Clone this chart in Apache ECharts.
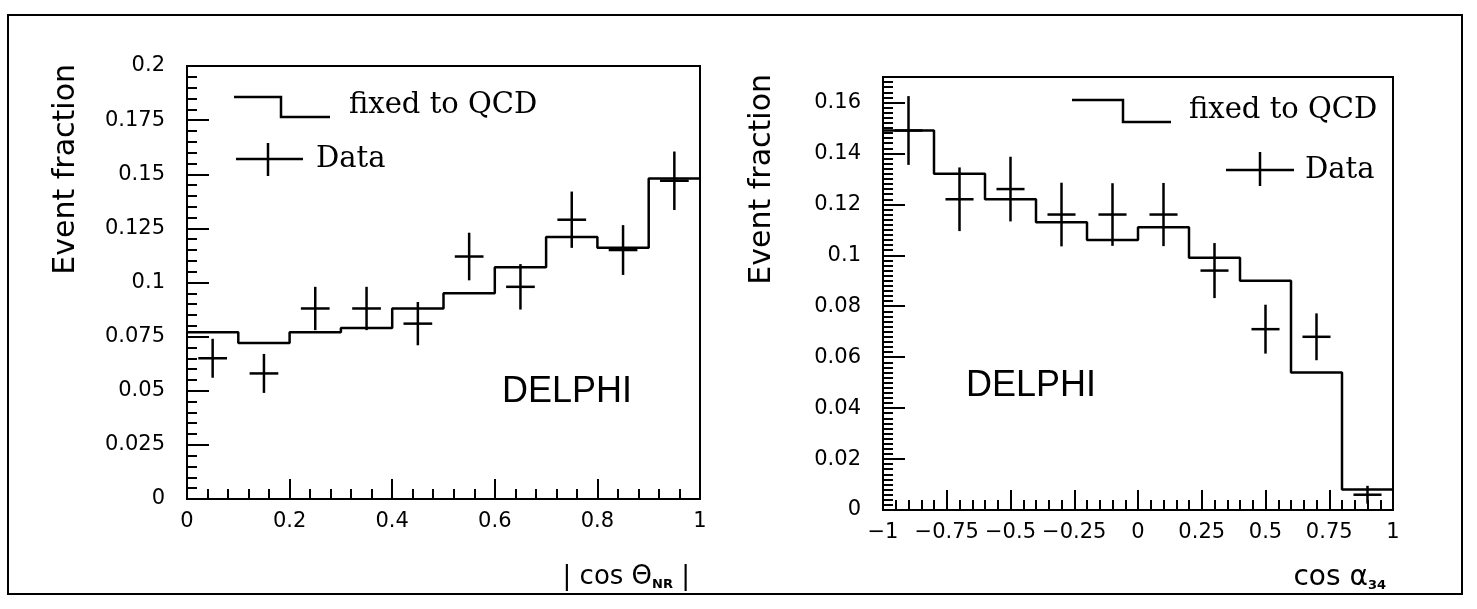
<!DOCTYPE html>
<html>
<head>
<meta charset="utf-8">
<script src="https://cdn.jsdelivr.net/npm/echarts@6/dist/echarts.min.js"></script>
<style>
html, body { margin: 0; padding: 0; background: #fff; }
#chart { width: 1477px; height: 609px; }
</style>
</head>
<body>
<div id="chart"></div>
<script>
// left panel: |cos Theta_NR|
var leftEdges = [0, 0.1, 0.2, 0.3, 0.4, 0.5, 0.6, 0.7, 0.8, 0.9, 1.0];
var leftQcd = [0.077, 0.072, 0.077, 0.079, 0.088, 0.095, 0.107, 0.121, 0.116, 0.148];
var leftX = [0.05, 0.15, 0.25, 0.35, 0.45, 0.55, 0.65, 0.75, 0.85, 0.95];
var leftData = [0.065, 0.058, 0.088, 0.088, 0.081, 0.112, 0.098, 0.129, 0.115, 0.147];
var leftErr = [0.009, 0.009, 0.010, 0.010, 0.010, 0.011, 0.0105, 0.013, 0.0115, 0.0135];

// right panel: cos alpha_34
var rightEdges = [-1, -0.8, -0.6, -0.4, -0.2, 0, 0.2, 0.4, 0.6, 0.8, 1.0];
var rightQcd = [0.149, 0.132, 0.122, 0.113, 0.106, 0.111, 0.099, 0.090, 0.054, 0.008];
var rightX = [-0.9, -0.7, -0.5, -0.3, -0.1, 0.1, 0.3, 0.5, 0.7, 0.9];
var rightData = [0.149, 0.122, 0.126, 0.116, 0.116, 0.116, 0.094, 0.071, 0.068, 0.006];
var rightErr = [0.0135, 0.0125, 0.0127, 0.0125, 0.0123, 0.0124, 0.0108, 0.0096, 0.0092, 0.0035];

var myChart = echarts.init(document.getElementById('chart'));

var sans = 'DejaVu Sans';
var serif = 'DejaVu Serif';

function num(v) {
  return String(+v.toFixed(3)).replace('-', '\u2212');
}

function histSeries(edges, vals, idx) {
  var pts = vals.map(function (v, i) { return [edges[i], v]; });
  pts.push([edges[edges.length - 1], vals[vals.length - 1]]);
  return {
    type: 'line', step: 'end', data: pts,
    xAxisIndex: idx, yAxisIndex: idx,
    symbol: 'none', silent: true,
    lineStyle: { color: '#000', width: 2.5 }
  };
}

// data points with error crosses
function crossSeries(xs, ys, errs, halfW, idx) {
  return {
    type: 'custom',
    xAxisIndex: idx, yAxisIndex: idx,
    data: xs.map(function (x, i) { return [x, ys[i], errs[i]]; }),
    encode: { x: 0, y: 1 },
    z: 3,
    renderItem: function (params, api) {
      var x = api.value(0), y = api.value(1), e = api.value(2);
      var t = api.coord([x, y + e]);
      var b = api.coord([x, y - e]);
      var l = api.coord([x - halfW, y]);
      var r = api.coord([x + halfW, y]);
      var st = { stroke: '#000', lineWidth: 2.5 };
      return {
        type: 'group',
        children: [
          { type: 'line', shape: { x1: t[0], y1: t[1], x2: b[0], y2: b[1] }, style: st },
          { type: 'line', shape: { x1: l[0], y1: l[1], x2: r[0], y2: r[1] }, style: st }
        ]
      };
    }
  };
}

function xAxisOf(idx, min, max, interval) {
  return {
    type: 'value', gridIndex: idx, min: min, max: max, interval: interval,
    axisLine: { onZero: false, lineStyle: { color: '#000', width: 2 } },
    axisTick: { inside: true, length: 20, lineStyle: { color: '#000', width: 2 } },
    minorTick: { show: true, splitNumber: 5, length: 10, lineStyle: { color: '#000', width: 2 } },
    splitLine: { show: false },
    axisLabel: { margin: 12, color: '#000', fontSize: 21, fontFamily: sans, formatter: num }
  };
}

function yAxisOf(idx, max, interval, minorN, showMax) {
  return {
    type: 'value', gridIndex: idx, min: 0, max: max, interval: interval,
    axisLine: { onZero: false, lineStyle: { color: '#000', width: 2 } },
    axisTick: { inside: true, length: 22, lineStyle: { color: '#000', width: 2 } },
    minorTick: { show: true, splitNumber: minorN, length: 10, lineStyle: { color: '#000', width: 2 } },
    splitLine: { show: false },
    axisLabel: { margin: 22, color: '#000', fontSize: 21, fontFamily: sans, formatter: num, showMaxLabel: showMax }
  };
}

function txt(x, y, text, opt) {
  var o = {
    type: 'text', x: x, y: y,
    style: { text: text, fill: '#000', font: opt.font, align: opt.align || 'left', verticalAlign: 'middle' }
  };
  if (opt.rotation) o.rotation = opt.rotation;
  if (opt.rich) o.style.rich = opt.rich;
  return o;
}

var lineSt = { stroke: '#000', lineWidth: 2.5, fill: null };
var subRich = {
  sub: { fontSize: 13, fontWeight: 'bold', fontFamily: sans, verticalAlign: 'bottom', padding: [15, 0, 0, 0] }
};

var option = {
  backgroundColor: '#fff',
  animation: false,
  grid: [
    { left: 187, top: 66, width: 513, height: 433, show: true, borderColor: '#000', borderWidth: 2 },
    { left: 883, top: 77, width: 510, height: 433, show: true, borderColor: '#000', borderWidth: 2 }
  ],
  xAxis: [xAxisOf(0, 0, 1, 0.2), xAxisOf(1, -1, 1, 0.25)],
  yAxis: [yAxisOf(0, 0.2, 0.025, 5, true), yAxisOf(1, 0.17, 0.02, 10, false)],
  series: [
    histSeries(leftEdges, leftQcd, 0),
    crossSeries(leftX, leftData, leftErr, 0.028, 0),
    histSeries(rightEdges, rightQcd, 1),
    crossSeries(rightX, rightData, rightErr, 0.055, 1)
  ],
  graphic: [
    // outer frame
    { type: 'rect', shape: { x: 8, y: 15, width: 1454, height: 579 }, style: { stroke: '#000', lineWidth: 2, fill: null } },
    // left legend
    { type: 'polyline', shape: { points: [[234, 97], [281, 97], [281, 117], [330, 117]] }, style: lineSt },
    txt(349, 105, 'fixed to QCD', { font: '29px ' + serif }),
    { type: 'line', shape: { x1: 236, y1: 159, x2: 303, y2: 159 }, style: lineSt },
    { type: 'line', shape: { x1: 268, y1: 143, x2: 268, y2: 176 }, style: lineSt },
    txt(316, 159, 'Data', { font: '29px ' + serif }),
    // right legend
    { type: 'polyline', shape: { points: [[1072, 100], [1123, 100], [1123, 122], [1171, 122]] }, style: lineSt },
    txt(1189, 110, 'fixed to QCD', { font: '29px ' + serif }),
    { type: 'line', shape: { x1: 1226, y1: 170, x2: 1294, y2: 170 }, style: lineSt },
    { type: 'line', shape: { x1: 1260, y1: 152, x2: 1260, y2: 186 }, style: lineSt },
    txt(1305, 170, 'Data', { font: '29px ' + serif }),
    // DELPHI labels
    txt(502, 392, 'DELPHI', { font: '36px Liberation Sans' }),
    txt(966, 386, 'DELPHI', { font: '36px Liberation Sans' }),
    // y titles
    txt(66, 64, 'Event fraction', { font: '30px ' + sans, align: 'right', rotation: Math.PI / 2 }),
    txt(762, 74, 'Event fraction', { font: '30px ' + sans, align: 'right', rotation: Math.PI / 2 }),
    // x titles
    txt(690, 577, '| cos \u0398{sub|NR} |', { font: '26px ' + sans, align: 'right', rich: subRich }),
    txt(1386, 578, 'cos \u03b1{sub|34}', { font: '28px ' + sans, align: 'right', rich: subRich })
  ]
};

myChart.setOption(option);
</script>
</body>
</html>
